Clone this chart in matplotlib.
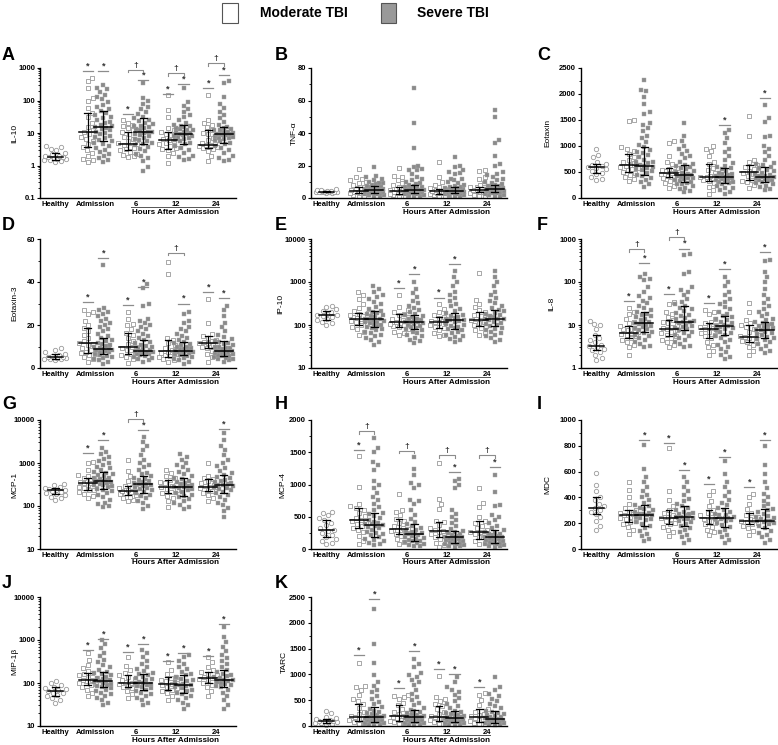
import matplotlib
matplotlib.use("Agg")
import matplotlib.pyplot as plt
import numpy as np
from matplotlib.patches import Rectangle
from matplotlib.ticker import FixedLocator, LogLocator, AutoMinorLocator, NullFormatter

plt.rcParams['font.family'] = ['Liberation Sans', 'DejaVu Sans']
plt.rcParams['font.weight'] = 'bold'

# group order: Healthy, Adm mod, Adm sev, 6h mod, 6h sev, 12h mod, 12h sev, 24h mod, 24h sev
TIME_LABELS = ["Healthy", "Admission", "6", "12", "24"]

IL10 = [
    [1.3, 1.4, 1.45, 1.5, 1.55, 1.6, 1.7, 1.8, 1.8, 1.9, 2.0, 2.2, 2.4, 2.9, 3.3, 3.6, 4.0],
    [1.3, 1.5, 1.6, 2.0, 2.5, 3.0, 3.7, 4.5, 5.5, 6.5, 7.5, 9, 10.5, 12, 15, 20, 30, 40, 60, 100, 120, 250, 400, 500],
    [1.3, 1.5, 1.7, 2, 2.3, 2.6, 3, 3.5, 4, 4.5, 5, 5.5, 6, 7, 7.5, 8, 9, 10, 11, 12, 13, 14, 15, 16, 18, 20, 22,
     25, 28, 32, 36, 40, 48, 55, 65, 75, 90, 110, 130, 150, 180, 220, 250, 300],
    [1.8, 1.9, 2.1, 2.3, 2.6, 3, 3.2, 3.5, 3.8, 4.2, 4.6, 5, 5.5, 6.5, 7.5, 9, 10.5, 12, 14, 16, 18, 20, 25],
    [0.7, 0.9, 1.4, 1.7, 2, 2.3, 2.7, 3.2, 3.7, 4.2, 4.5, 5, 5.5, 6, 6.5, 7, 8, 8.5, 9.5, 10, 11, 11, 12, 13, 14,
     15, 16, 17, 19, 21, 24, 26, 28, 32, 38, 45, 55, 65, 80, 100, 120, 350],
    [1.2, 2, 2.5, 3, 3.2, 3.5, 4, 4.5, 5, 5.5, 6, 6.5, 7.5, 8.5, 9.5, 11, 12, 14, 30, 50, 150],
    [1.5, 1.6, 1.8, 2, 2.5, 3, 3.5, 4, 4.5, 5, 5.5, 6, 6.5, 7, 7.5, 8, 8, 8.5, 9, 9.5, 10, 10.5, 11, 12, 12.5, 13,
     14, 15, 16, 17, 18, 20, 25, 30, 35, 45, 55, 70, 90, 250],
    [1.4, 2, 2.8, 3.2, 3.5, 3.7, 3.8, 4.0, 4.2, 4.2, 4.5, 5, 6, 7, 9, 10, 12, 15, 18, 20, 25, 150],
    [1.4, 1.5, 1.7, 2, 2.5, 3, 3.5, 4, 4.5, 5, 5.5, 6, 6.5, 7, 7.2, 7.5, 8, 8.5, 8.8, 9, 9, 9.5, 10, 10.5, 11, 12,
     12.5, 13, 14, 15, 18, 22, 28, 35, 45, 60, 80, 130, 350, 400],
]
IL10_med = [1.8, 10.5, 15, 4.6, 11, 6, 9, 4.2, 9]
IL10_q1 = [1.5, 3.7, 5.5, 3, 4.5, 3.2, 4.5, 3.5, 5]
IL10_q3 = [2.4, 40, 48, 10.5, 28, 11, 18, 12, 15]
IL10_star = [810, 810, 38, 430, 163, 327, 250, 614]
IL10_dag = [None, 870, 700, 1420]

TNFA = [
    [3, 3.2, 3.4, 3.5, 3.6, 3.8, 3.9, 4, 4, 4.1, 4.3, 4.5, 4.7, 5, 5.5],
    [1, 1.5, 2, 2.5, 3, 3, 3.5, 3.8, 4, 4.2, 4.5, 5, 5.5, 6, 6.5, 7, 8, 9, 10, 11, 12, 13, 18],
    [1, 1.3, 1.6, 2, 2.3, 2.6, 2.8, 3, 3, 3.3, 3.4, 3.6, 3.9, 4, 4.2, 4.5, 4.6, 4.8, 5, 5, 5.3, 5.6, 5.8, 6, 6.3,
     6.6, 6.8, 7, 7.2, 7.5, 8, 8.5, 9, 9.5, 10, 11, 12, 13, 13.5, 19],
    [1, 1.3, 1.7, 2, 2.5, 2.8, 3.2, 3.6, 4, 4.5, 4.8, 5.2, 5.6, 6, 6.5, 7, 8, 9, 11, 13, 13.5, 18.5],
    [1, 1.3, 1.7, 2, 2.3, 2.7, 3, 3.2, 3.3, 3.5, 3.8, 4, 4.3, 4.6, 4.8, 5, 5, 5.4, 5.8, 6.2, 6.6, 6.8, 7, 7.5, 8,
     8.5, 9, 10, 11, 12, 13, 15, 17, 17.5, 18, 19, 20, 31, 46, 68],
    [1, 1.3, 1.7, 2, 2.5, 2.8, 3, 3.3, 3.7, 4, 4.2, 4.5, 4.8, 5.2, 5.5, 6, 7, 8, 10, 13, 22],
    [1, 1.3, 1.6, 2, 2.3, 2.7, 2.9, 3, 3.2, 3.4, 3.5, 3.8, 4, 4.1, 4.2, 4.5, 4.5, 4.8, 5, 5.3, 5.6, 5.8, 6, 6.4,
     6.7, 7, 7.5, 8, 9, 10, 11, 11.5, 12, 15, 15.5, 16, 17, 19, 20, 25],
    [1, 1.5, 2, 2.5, 3, 3.5, 3.8, 4.2, 4.6, 5, 5.3, 5.7, 6.2, 6.6, 7, 8, 9, 12, 13, 16.5, 17],
    [1, 1.3, 1.7, 2, 2.5, 3, 3.3, 3.5, 3.8, 4.1, 4.4, 4.7, 4.9, 5, 5.3, 5.5, 5.8, 6.1, 6.4, 6.6, 6.8, 7.2, 7.6, 8,
     8.5, 9, 10, 11, 12, 13, 14, 15, 16, 20, 21, 26, 34, 36, 50, 54],
]
TNFA_med = [4, 4.2, 5, 4.5, 5, 4.2, 4.5, 5, 5.5]
TNFA_q1 = [3.5, 3, 3, 2.5, 3, 2.5, 3, 3.5, 3.5]
TNFA_q3 = [4.5, 6.5, 7.5, 6.5, 8, 5.5, 7, 7, 8]
TNFA_star = [None] * 8
TNFA_dag = [None] * 4

EOTAXIN = [
    [350, 370, 400, 460, 490, 520, 550, 580, 590, 610, 630, 650, 700, 780, 830, 950],
    [330, 370, 400, 440, 480, 500, 540, 560, 580, 600, 610, 640, 670, 700, 740, 790, 850, 900, 950, 980, 1490, 1500],
    [220, 260, 300, 340, 380, 420, 450, 480, 510, 540, 560, 570, 600, 620, 640, 670, 690, 700, 740, 780, 820, 870,
     880, 920, 980, 1020, 1080, 1150, 1200, 1280, 1350, 1400, 1450, 1620, 1650, 1800, 1950, 2050, 2080, 2270],
    [200, 230, 280, 330, 380, 400, 430, 460, 470, 490, 510, 520, 540, 560, 580, 650, 700, 800, 1050, 1100],
    [110, 140, 170, 200, 230, 260, 270, 290, 300, 330, 350, 360, 380, 390, 410, 430, 440, 450, 460, 490, 500, 520,
     550, 580, 600, 610, 640, 660, 700, 760, 800, 850, 900, 950, 1000, 1100, 1200, 1450],
    [80, 150, 220, 280, 330, 350, 360, 380, 400, 410, 430, 480, 530, 580, 650, 700, 800, 900, 950, 1000],
    [80, 110, 150, 190, 200, 230, 260, 280, 300, 310, 330, 350, 360, 370, 390, 400, 410, 420, 440, 460, 470, 490,
     520, 550, 580, 600, 620, 680, 740, 800, 880, 950, 1050, 1150, 1250, 1300],
    [200, 250, 300, 330, 350, 380, 420, 460, 480, 500, 520, 560, 600, 640, 700, 740, 1200, 1580],
    [150, 180, 210, 240, 270, 290, 300, 320, 340, 350, 360, 380, 390, 400, 410, 420, 430, 450, 460, 480, 510, 540,
     570, 590, 630, 650, 680, 740, 800, 880, 950, 1000, 1180, 1200, 1470, 1540, 1780],
]
EOTAXIN_med = [590, 640, 620, 490, 440, 410, 400, 500, 400]
EOTAXIN_q1 = [490, 500, 450, 400, 300, 330, 280, 350, 300]
EOTAXIN_q3 = [650, 850, 980, 580, 640, 650, 580, 640, 590]
EOTAXIN_star = [None, None, None, None, None, 1400, None, 1920]
EOTAXIN_dag = [None] * 4

EOTAXIN3 = [
    [3.5, 4, 4.2, 4.3, 4.5, 4.8, 5, 5, 5.3, 5.7, 6.2, 6.5, 7.5, 8.5, 9.5],
    [3, 4, 5, 6, 6.5, 7, 7.5, 8.5, 9.5, 10.5, 11, 11.5, 12.5, 14, 15.5, 17, 18.5, 20, 22, 25, 26, 27],
    [2, 3, 3.5, 4, 4.5, 5, 5.5, 6, 6.5, 7, 7.3, 7.6, 8, 8.3, 8.6, 9, 9, 9.4, 9.8, 10.2, 10.7, 11.2, 11.8, 12.5,
     13.2, 14, 15, 16, 17, 18, 19, 20, 21, 22, 23, 24, 25, 26, 27, 28, 48],
    [2.5, 4, 5, 6, 6.5, 7.5, 8.5, 9.2, 9.6, 10, 11, 12.5, 14, 15.5, 16.5, 18, 20, 20.5, 23, 26],
    [3, 3.5, 4, 4.5, 5, 5.5, 6, 6.3, 6.6, 7, 7.3, 7.6, 8, 8, 8.4, 8.8, 9.2, 9.7, 10.2, 10.8, 11.5, 12.2, 13, 14,
     15, 16, 17, 18, 19, 20, 21, 22, 23, 29, 30, 37, 39],
    [3, 3.5, 4, 4.5, 5, 5.5, 6, 6.5, 7, 7.5, 8, 8.5, 9.5, 10.5, 11.5, 13, 14, 43.5, 49.5],
    [2, 3, 3.5, 4, 4.5, 5, 5.5, 6, 6.3, 6.6, 7, 7.3, 7.6, 7.8, 8, 8, 8.4, 8.8, 9, 9.2, 9.6, 10, 10.5, 11, 11.5,
     12, 13, 14, 15, 16, 17, 18, 19, 21, 22, 25, 26],
    [3, 5, 6.5, 8, 9.5, 10, 10.5, 11, 11.5, 11.8, 12, 12.5, 13, 14, 15, 16, 21, 32],
    [3, 3.5, 4, 4.3, 4.6, 5, 5.5, 5.8, 6.1, 6.4, 6.7, 7, 7.3, 7.6, 7.8, 8, 8, 8.4, 8.8, 9.2, 9.4, 9.6, 10, 10.5,
     11, 11.5, 12, 12.5, 13.5, 14.5, 15.5, 17, 19, 21, 24, 27, 29],
]
EOTAXIN3_med = [5, 11.5, 9, 10, 8, 8, 8, 11.5, 8]
EOTAXIN3_q1 = [4.3, 7, 6.5, 6.5, 6, 5, 6, 9.5, 5.5]
EOTAXIN3_q3 = [6.5, 18.5, 14, 16.5, 13, 13, 12, 15, 12.5]
EOTAXIN3_star = [30.5, 51, 29.5, 37.5, None, 30, 35.5, 32.5]
EOTAXIN3_dag = [None, None, 53.5, None]

IP10 = [
    [100, 110, 120, 130, 140, 150, 160, 170, 175, 185, 200, 210, 230, 260, 280],
    [60, 70, 80, 90, 100, 105, 115, 125, 135, 140, 145, 150, 160, 170, 180, 190, 210, 250, 300, 400, 500, 600],
    [35, 40, 45, 50, 55, 60, 65, 70, 75, 80, 85, 90, 95, 100, 105, 110, 115, 120, 125, 130, 135, 135, 140, 150,
     160, 170, 180, 190, 200, 210, 230, 260, 300, 350, 400, 450, 500, 600, 700, 800],
    [60, 65, 70, 80, 90, 95, 100, 105, 110, 115, 120, 130, 140, 155, 170, 180, 200, 220, 260, 500],
    [38, 42, 46, 50, 55, 60, 65, 70, 75, 80, 85, 90, 95, 100, 105, 110, 115, 120, 120, 125, 130, 135, 140, 150,
     160, 170, 185, 200, 220, 250, 280, 320, 370, 450, 550, 700, 1000],
    [55, 60, 65, 75, 85, 90, 100, 110, 115, 120, 125, 135, 145, 150, 170, 200, 230, 300],
    [40, 44, 48, 52, 56, 60, 65, 70, 75, 80, 85, 90, 95, 100, 108, 115, 122, 130, 130, 138, 146, 155, 165, 175,
     190, 210, 240, 270, 310, 360, 420, 500, 600, 800, 1000, 1300, 1800],
    [60, 65, 75, 85, 95, 100, 110, 120, 130, 135, 145, 160, 175, 200, 220, 260, 300, 380, 1600],
    [40, 45, 50, 55, 60, 65, 70, 75, 80, 87, 95, 100, 105, 112, 120, 128, 135, 140, 140, 150, 160, 170, 180, 195,
     210, 220, 250, 280, 320, 370, 430, 500, 600, 800, 1000, 1300, 1800],
]
IP10_med = [170, 140, 135, 115, 120, 120, 130, 130, 140]
IP10_q1 = [130, 100, 90, 90, 80, 85, 80, 95, 95]
IP10_q3 = [210, 190, 210, 180, 170, 150, 190, 200, 220]
IP10_star = [None, None, 740, 1500, 435, 2560, None, None]
IP10_dag = [None] * 4

IL8 = [
    [1.5, 1.7, 2, 2.3, 2.6, 2.8, 3.0, 3.3, 3.5, 4, 4.5, 5, 6, 8, 10, 10.5, 12.5],
    [2, 3, 3.5, 4, 4.5, 5, 5.5, 6, 6.3, 6.5, 7, 7.5, 8, 8.5, 9.5, 11, 12, 14, 18, 20, 25],
    [3, 3.3, 3.7, 4, 4.5, 5, 5.5, 6, 6.5, 7, 7.5, 8, 8.5, 9, 9.5, 10, 10.5, 11, 11, 12, 13, 14, 15, 16, 17, 18,
     20, 22, 25, 28, 32, 37, 42, 47, 60, 75, 110, 120, 130, 150],
    [3, 3.5, 4, 4.5, 5, 5.5, 6, 6.5, 7, 7.5, 8, 8.5, 9, 10, 11, 12, 13, 15, 18, 20, 30, 35],
    [3, 3.3, 3.7, 4, 4.5, 5, 5.5, 6, 6.5, 7, 7.5, 8, 8.5, 9, 9.5, 10, 11, 11.5, 12, 12.5, 13.5, 14.5, 16, 17.5,
     19, 21, 23, 25, 27, 30, 35, 40, 50, 60, 65, 75, 150, 170, 430, 450],
    [2, 2.5, 3, 3.5, 4, 5, 5.5, 6, 6.5, 7, 7.5, 8, 8.5, 9, 9.5, 10, 11, 12, 14, 18, 20, 22],
    [1.6, 1.8, 2, 2.3, 2.7, 3, 3.5, 4, 4.5, 5, 5.5, 6, 6.5, 7, 7.5, 8, 8.5, 9, 9.5, 9.5, 10, 11, 12, 13, 14, 15,
     16, 18, 20, 23, 26, 30, 35, 40, 50, 60, 80, 100, 130],
    [2, 2.5, 3, 3.5, 4, 4.3, 4.6, 5, 5.2, 5.5, 6, 7, 8, 9, 10, 11, 13, 20, 33],
    [2.2, 2.5, 2.8, 3.2, 3.6, 4, 4.4, 4.8, 5, 5.4, 5.8, 6.2, 6.6, 7, 7.5, 7.5, 8, 8.5, 9, 9.5, 10, 10.5, 11, 12,
     13, 14, 16, 18, 20, 23, 27, 32, 40, 50, 70, 100, 130, 170, 300, 320],
]
IL8_med = [3.3, 6.5, 11, 8, 12, 8, 9.5, 5.2, 7.5]
IL8_q1 = [2.6, 5, 7, 5.5, 7.5, 5, 6, 4, 5]
IL8_q3 = [6, 9.5, 20, 13, 27, 11, 16, 10, 12]
IL8_star = [36, 275, 52, 600, 33, 196, None, 500]
IL8_dag = [580, 1100, None, None]

MCP1 = [
    [140, 150, 165, 180, 190, 200, 215, 225, 230, 240, 250, 260, 280, 300, 330],
    [150, 170, 190, 210, 230, 240, 260, 280, 300, 320, 340, 350, 360, 390, 420, 460, 500, 520, 700, 1000, 1050],
    [95, 100, 110, 120, 140, 160, 180, 200, 220, 240, 250, 270, 290, 300, 310, 330, 350, 370, 390, 390, 410, 430,
     450, 460, 490, 520, 560, 600, 620, 680, 750, 820, 900, 1000, 1100, 1250, 1400, 1600, 1800, 2200],
    [130, 140, 150, 165, 180, 190, 200, 210, 220, 225, 240, 260, 280, 290, 330, 380, 500, 650, 1150],
    [85, 100, 115, 130, 150, 170, 185, 200, 215, 230, 245, 260, 275, 290, 305, 320, 320, 340, 360, 380, 400, 430,
     460, 500, 550, 600, 700, 800, 900, 1000, 1200, 1500, 2000, 2500, 3000, 4000],
    [95, 130, 150, 175, 200, 215, 235, 255, 270, 290, 310, 340, 370, 400, 450, 500, 600, 700],
    [85, 95, 105, 115, 130, 145, 160, 170, 185, 200, 215, 230, 245, 260, 270, 270, 285, 300, 320, 340, 360, 390,
     420, 450, 500, 560, 620, 700, 800, 900, 1000, 1200, 1400, 1600],
    [130, 150, 180, 200, 220, 240, 260, 270, 280, 290, 310, 340, 380, 420, 450, 500, 1000],
    [55, 75, 90, 105, 120, 140, 160, 180, 200, 215, 230, 245, 260, 275, 290, 300, 300, 320, 340, 360, 380, 410,
     440, 480, 520, 580, 650, 750, 850, 1000, 1200, 1500, 2000, 2500, 3500, 5000],
]
MCP1_med = [230, 340, 390, 220, 320, 270, 270, 280, 300]
MCP1_q1 = [190, 240, 250, 180, 200, 200, 170, 220, 200]
MCP1_q3 = [260, 460, 620, 290, 500, 400, 450, 420, 520]
MCP1_star = [1710, 3370, None, 5800, None, None, None, 6300]
MCP1_dag = [None, 10500, None, None]

MCP4 = [
    [80, 100, 130, 160, 190, 220, 250, 280, 300, 330, 370, 410, 450, 480, 520, 560, 580],
    [70, 120, 200, 260, 300, 330, 360, 390, 420, 440, 450, 480, 510, 560, 600, 630, 660, 700, 960, 1440],
    [60, 80, 100, 120, 140, 160, 180, 210, 240, 250, 270, 300, 320, 340, 360, 370, 380, 390, 400, 420, 450, 480,
     510, 540, 560, 600, 650, 700, 760, 800, 870, 950, 1000, 1050, 1230, 1300, 1350, 1500, 1570, 1720],
    [70, 110, 150, 200, 240, 260, 280, 290, 300, 310, 330, 360, 400, 440, 470, 520, 570, 600, 860],
    [40, 50, 60, 75, 90, 105, 120, 130, 145, 160, 175, 190, 205, 220, 230, 230, 245, 260, 280, 300, 320, 350, 380,
     420, 470, 530, 600, 700, 740, 760, 950, 990, 1020, 1150, 1240, 1420],
    [30, 60, 100, 150, 190, 210, 240, 260, 270, 280, 300, 330, 370, 420, 440, 620, 700, 780, 1340],
    [30, 40, 50, 60, 70, 80, 90, 100, 110, 120, 130, 140, 150, 160, 170, 180, 180, 190, 200, 215, 230, 245, 260,
     280, 310, 350, 400, 450, 500, 550, 600, 950, 1000, 1050, 1090],
    [70, 90, 120, 150, 180, 210, 240, 260, 270, 290, 320, 360, 400, 430, 500, 650, 720, 940],
    [30, 40, 50, 60, 70, 80, 90, 100, 110, 120, 130, 140, 150, 160, 170, 180, 180, 190, 200, 210, 225, 240, 255,
     270, 290, 320, 360, 400, 450, 500, 530, 660, 680, 890, 1140],
]
MCP4_med = [300, 450, 370, 310, 230, 280, 180, 270, 180]
MCP4_q1 = [190, 330, 180, 240, 130, 190, 100, 150, 90]
MCP4_q3 = [450, 630, 560, 470, 380, 420, 280, 430, 290]
MCP4_star = [1540, None, None, None, None, 1200, None, 1270]
MCP4_dag = [1825, 1525, 1450, 1450]

MDC = [
    [150, 180, 220, 250, 270, 290, 300, 320, 330, 350, 380, 400, 450, 500, 590],
    [120, 150, 170, 190, 210, 220, 235, 240, 250, 260, 265, 270, 280, 290, 300, 320, 350, 400, 460, 520],
    [60, 80, 100, 120, 140, 160, 180, 195, 210, 225, 230, 240, 250, 260, 260, 270, 275, 280, 290, 300, 310, 315,
     330, 340, 360, 380, 400, 420, 450, 480, 520, 560, 620, 810],
    [100, 130, 150, 170, 190, 205, 220, 235, 240, 245, 250, 265, 280, 300, 330, 380, 450, 780],
    [50, 70, 90, 110, 130, 150, 165, 180, 195, 210, 220, 230, 235, 240, 250, 250, 260, 270, 275, 280, 290, 305,
     320, 330, 350, 370, 390, 420, 450, 480, 520, 560],
    [110, 130, 150, 170, 190, 205, 220, 235, 240, 250, 265, 280, 300, 330, 370, 420, 450],
    [50, 70, 90, 110, 130, 150, 170, 185, 200, 215, 225, 230, 235, 240, 240, 250, 260, 265, 275, 290, 305, 320,
     340, 360, 380, 410, 440, 480, 520, 580, 680],
    [110, 140, 160, 180, 190, 200, 210, 220, 225, 235, 250, 265, 280, 310, 350, 400, 430],
    [50, 70, 90, 110, 125, 140, 160, 175, 190, 200, 210, 215, 220, 220, 230, 240, 245, 255, 270, 285, 300, 310,
     330, 350, 375, 400, 430, 470, 520, 580, 650, 800],
]
MDC_med = [320, 260, 260, 240, 250, 240, 240, 220, 220]
MDC_q1 = [270, 210, 180, 190, 180, 190, 170, 190, 160]
MDC_q3 = [400, 300, 340, 300, 330, 300, 320, 280, 310]
MDC_star = [None, 845, 820, 612, 504, 713, 480, 845]
MDC_dag = [None] * 4

MIP1B = [
    [35, 40, 45, 50, 53, 57, 60, 65, 68, 72, 76, 80, 88, 100, 110],
    [50, 60, 70, 80, 90, 95, 100, 110, 115, 120, 130, 140, 150, 160, 170, 190, 220, 260, 350, 500],
    [30, 35, 40, 45, 50, 55, 60, 65, 70, 75, 80, 85, 90, 95, 100, 105, 110, 110, 118, 125, 132, 140, 150, 160,
     170, 180, 200, 230, 260, 300, 350, 420, 500, 650, 800, 1000],
    [45, 55, 65, 75, 80, 85, 90, 95, 100, 105, 115, 125, 135, 150, 170, 200, 250, 400],
    [30, 35, 40, 45, 50, 55, 60, 65, 70, 75, 80, 85, 90, 95, 100, 100, 108, 115, 122, 130, 140, 150, 160, 175,
     190, 210, 240, 280, 330, 400, 500, 600],
    [40, 50, 60, 65, 70, 75, 82, 88, 95, 100, 110, 120, 130, 140, 160, 200, 300],
    [25, 30, 35, 40, 45, 50, 55, 60, 65, 70, 75, 80, 85, 90, 90, 96, 103, 110, 118, 126, 135, 150, 165, 185, 210,
     240, 280, 330, 400, 450],
    [50, 65, 80, 90, 100, 110, 120, 125, 130, 140, 150, 165, 180, 200, 240, 300, 400],
    [25, 30, 40, 50, 60, 70, 80, 85, 90, 95, 100, 105, 112, 120, 120, 128, 136, 145, 155, 165, 180, 200, 230, 270,
     320, 380, 450, 550, 700, 900, 1200, 2000],
]
MIP1B_med = [65, 120, 110, 100, 100, 95, 90, 130, 120]
MIP1B_q1 = [50, 90, 80, 80, 70, 70, 60, 100, 80]
MIP1B_q3 = [80, 170, 180, 150, 160, 140, 150, 180, 200]
MIP1B_star = [590, 1050, 530, 820, 320, 500, 430, 2300]
MIP1B_dag = [None] * 4

TARC = [
    [20, 35, 50, 60, 70, 80, 90, 95, 105, 115, 130, 150, 180, 250, 300],
    [30, 50, 70, 90, 110, 130, 150, 170, 180, 200, 230, 280, 350, 420, 480, 520, 600, 700, 750, 780, 1230],
    [20, 30, 40, 50, 60, 70, 80, 90, 100, 110, 120, 130, 140, 150, 160, 170, 180, 180, 195, 210, 230, 250, 270,
     300, 330, 370, 420, 470, 520, 580, 650, 700, 780, 850, 980, 1230, 1580, 2270],
    [40, 60, 80, 90, 110, 130, 150, 170, 190, 210, 240, 280, 330, 400, 450, 520, 560, 590, 600],
    [20, 30, 40, 50, 60, 70, 80, 90, 100, 110, 120, 130, 140, 150, 160, 170, 170, 185, 200, 215, 230, 250, 270,
     290, 310, 350, 400, 450, 500, 560, 620, 700, 800, 850, 900, 950, 990, 1020, 1150, 1200, 1290],
    [30, 50, 70, 90, 110, 130, 150, 170, 180, 200, 230, 280, 330, 380, 430, 480, 520, 560, 970],
    [20, 30, 40, 50, 60, 70, 80, 90, 100, 110, 120, 130, 140, 150, 160, 160, 175, 190, 205, 220, 240, 260, 280,
     300, 340, 380, 430, 480, 540, 600, 660, 700, 750, 850, 950],
    [30, 45, 60, 70, 90, 110, 130, 150, 170, 190, 210, 240, 280, 320, 400, 500, 600, 630],
    [20, 30, 40, 50, 60, 70, 80, 90, 100, 110, 120, 130, 140, 140, 150, 165, 180, 195, 210, 230, 250, 275, 300,
     340, 380, 430, 480, 530, 580, 620, 700, 750, 950],
]
TARC_med = [90, 180, 180, 190, 170, 180, 160, 170, 140]
TARC_q1 = [50, 90, 80, 90, 80, 90, 70, 70, 60]
TARC_q3 = [130, 420, 370, 400, 310, 380, 300, 320, 300]
TARC_star = [1370, 2460, 730, 1450, 1105, 1010, 760, None]
TARC_dag = [None] * 4

# letter, ylabel, data, med, q1, q3, stars, daggers, log scale, ylim, yticks, ylabel offset (px)
PANELS = [
    ("A", "IL-10", IL10, IL10_med, IL10_q1, IL10_q3, IL10_star, IL10_dag, True, (0.1, 1000), [0.1, 1, 10, 100, 1000], -25),
    ("B", "TNF-\u03b1", TNFA, TNFA_med, TNFA_q1, TNFA_q3, TNFA_star, TNFA_dag, False, (0, 80), [0, 20, 40, 60, 80], -17),
    ("C", "Eotaxin", EOTAXIN, EOTAXIN_med, EOTAXIN_q1, EOTAXIN_q3, EOTAXIN_star, EOTAXIN_dag, False, (0, 2500),
     [0, 500, 1000, 1500, 2000, 2500], -33),
    ("D", "Eotaxin-3", EOTAXIN3, EOTAXIN3_med, EOTAXIN3_q1, EOTAXIN3_q3, EOTAXIN3_star, EOTAXIN3_dag, False, (0, 60),
     [0, 20, 40, 60], -25),
    ("E", "IP-10", IP10, IP10_med, IP10_q1, IP10_q3, IP10_star, IP10_dag, True, (10, 10000), [10, 100, 1000, 10000], -30),
    ("F", "IL-8", IL8, IL8_med, IL8_q1, IL8_q3, IL8_star, IL8_dag, True, (1, 1000), [1, 10, 100, 1000], -29),
    ("G", "MCP-1", MCP1, MCP1_med, MCP1_q1, MCP1_q3, MCP1_star, MCP1_dag, True, (10, 10000), [10, 100, 1000, 10000], -25),
    ("H", "MCP-4", MCP4, MCP4_med, MCP4_q1, MCP4_q3, MCP4_star, MCP4_dag, False, (0, 2000), [0, 500, 1000, 1500, 2000], -28),
    ("I", "MDC", MDC, MDC_med, MDC_q1, MDC_q3, MDC_star, MDC_dag, False, (0, 1000), [0, 200, 400, 600, 800, 1000], -33),
    ("J", "MIP-1\u03b2", MIP1B, MIP1B_med, MIP1B_q1, MIP1B_q3, MIP1B_star, MIP1B_dag, True, (10, 10000),
     [10, 100, 1000, 10000], -25),
    ("K", "TARC", TARC, TARC_med, TARC_q1, TARC_q3, TARC_star, TARC_dag, False, (0, 2500),
     [0, 500, 1000, 1500, 2000, 2500], -27),
]

FW, FH = 778, 745
XPOS = [1.0, 3.1, 4.1, 5.7, 6.7, 8.3, 9.3, 10.9, 11.9]
XMAX = 12.7
COL_LEFT = [40, 311, 581]
AX_W = 196
ROW_TOP = [68, 239, 420, 597]
ROW_BOT = [198, 368, 549, 726]
LETTER_X = [2, 275, 537]
LETTER_BASE = [60, 230, 409, 588]


def tf(v, log):
    v = np.asarray(v, float)
    return np.log10(v) if log else v


def swarm_offsets(yp, d, maxw):
    xs = np.zeros(len(yp))
    placed = []
    for i in np.argsort(yp, kind="stable"):
        y = yp[i]
        dd = d
        found = None
        while found is None:
            near = [(px, py) for px, py in placed if abs(py - y) < dd]
            cands = [0.0]
            for px, py in near:
                r = np.sqrt(dd * dd - (py - y) ** 2)
                cands += [px - r, px + r]
            cands.sort(key=lambda c: abs(c) + (1e-6 if c < 0 else 0))
            for c in cands:
                if abs(c) > maxw + 1e-9:
                    continue
                if all((c - px) ** 2 + (y - py) ** 2 >= dd * dd - 1e-6 for px, py in near):
                    found = c
                    break
            dd *= 0.85
        xs[i] = found
        placed.append((found, y))
    return xs


fig = plt.figure(figsize=(FW / 100, FH / 100), dpi=100)

for k, (letter, ylab, pts, med, q1, q3, stars, dags, log, lim, ticks, lab_off) in enumerate(PANELS):
    r, c = divmod(k, 3)
    H = ROW_BOT[r] - ROW_TOP[r]
    ax = fig.add_axes([COL_LEFT[c] / FW, 1 - ROW_BOT[r] / FH, AX_W / FW, H / FH])
    ux = AX_W / XMAX
    t0 = tf(lim[0], log) if log else lim[0]
    t1 = tf(lim[1], log) if log else lim[1]

    def shift(y, px):
        t = tf(y, log) + px / H * (t1 - t0)
        return 10 ** t if log else t

    for g, vals in enumerate(pts):
        v = np.array(vals, float)
        yp = (tf(v, log) - t0) / (t1 - t0) * H
        xo = swarm_offsets(yp, 5.6, 11 if g == 0 else 9.5) / ux
        x = XPOS[g] + xo
        if g == 0:
            ax.scatter(x, v, s=10, marker='o', facecolors='white', edgecolors='#9a9a9a', linewidths=0.6,
                       zorder=2, clip_on=False)
        elif g % 2 == 1:
            ax.scatter(x, v, s=10, marker='s', facecolors='white', edgecolors='#9a9a9a', linewidths=0.6,
                       zorder=2, clip_on=False)
        else:
            ax.scatter(x, v, s=10, marker='s', facecolors='#8a8a8a', edgecolors='#a8a8a8', linewidths=0.3,
                       zorder=2, clip_on=False)
        hw = 0.5 if g == 0 else 0.58
        ax.plot([XPOS[g] - hw, XPOS[g] + hw], [med[g], med[g]], color='black', lw=1.1, zorder=4)
        ax.plot([XPOS[g], XPOS[g]], [q1[g], q3[g]], color='black', lw=0.9, zorder=4)
        for q in (q1[g], q3[g]):
            ax.plot([XPOS[g] - 0.22, XPOS[g] + 0.22], [q, q], color='black', lw=0.9, zorder=4)

    for g, s in enumerate(stars, start=1):
        if s is None:
            continue
        ax.plot([XPOS[g] - 0.33, XPOS[g] + 0.33], [s, s], color='#8c8c8c', lw=0.9, clip_on=False, zorder=3)
        ax.text(XPOS[g], shift(s, 0.5), '*', ha='center', va='bottom', fontsize=6.5, color='#333333',
                clip_on=False)

    for p, s in enumerate(dags):
        if s is None:
            continue
        xa, xb = XPOS[1 + 2 * p], XPOS[2 + 2 * p]
        lo = shift(s, -2.5)
        ax.plot([xa, xa, xb, xb], [lo, s, s, lo], color='#8c8c8c', lw=0.8, clip_on=False, zorder=3)
        ax.text((xa + xb) / 2, shift(s, 1.0), '\u2020', ha='center', va='bottom', fontsize=6,
                color='#333333', clip_on=False)

    if log:
        ax.set_yscale('log')
    ax.set_ylim(lim)
    ax.set_xlim(0, XMAX)
    ax.yaxis.set_major_locator(FixedLocator(ticks))
    ax.set_yticklabels(['%g' % t for t in ticks])
    if log:
        ax.yaxis.set_minor_locator(LogLocator(base=10, subs=np.arange(2, 10)))
        ax.yaxis.set_minor_formatter(NullFormatter())
    else:
        ax.yaxis.set_minor_locator(AutoMinorLocator(2))
    ax.tick_params(axis='y', which='major', length=2.5, width=0.8, labelsize=5.5, pad=1)
    ax.tick_params(axis='y', which='minor', length=1.5, width=0.6)
    ax.set_xticks([XPOS[0]] + [(XPOS[i] + XPOS[i + 1]) / 2 for i in (1, 3, 5, 7)])
    ax.set_xticklabels(TIME_LABELS)
    ax.tick_params(axis='x', length=0, labelsize=5.5, pad=2)
    for side in ('top', 'right'):
        ax.spines[side].set_visible(False)
    for side in ('left', 'bottom'):
        ax.spines[side].set_linewidth(1.0)

    ax.set_ylabel(ylab, fontsize=6, va='center')
    ax.yaxis.set_label_coords(lab_off / AX_W, 0.5)

    xt = ax.get_xaxis_transform()
    ax.plot([5.9, 11.6], [-9 / H, -9 / H], color='#555555', lw=0.7, transform=xt, clip_on=False)
    ax.text(8.8, -10.5 / H, 'Hours After Admission', transform=xt, ha='center', va='top', fontsize=5.8)

    fig.text(LETTER_X[c] / FW, 1 - LETTER_BASE[r] / FH, letter, fontsize=13, ha='left', va='baseline')

# legend
fig.add_artist(Rectangle((222 / FW, 1 - 23 / FH), 16 / FW, 20 / FH, transform=fig.transFigure,
                         facecolor='white', edgecolor='#555555', lw=0.8))
fig.add_artist(Rectangle((381 / FW, 1 - 23 / FH), 15 / FW, 20 / FH, transform=fig.transFigure,
                         facecolor='#999999', edgecolor='#555555', lw=0.8))
fig.text(260 / FW, 1 - 13 / FH, 'Moderate TBI', fontsize=10, ha='left', va='center')
fig.text(417 / FW, 1 - 13 / FH, 'Severe TBI', fontsize=10, ha='left', va='center')

fig.savefig('out.png', dpi=100)
